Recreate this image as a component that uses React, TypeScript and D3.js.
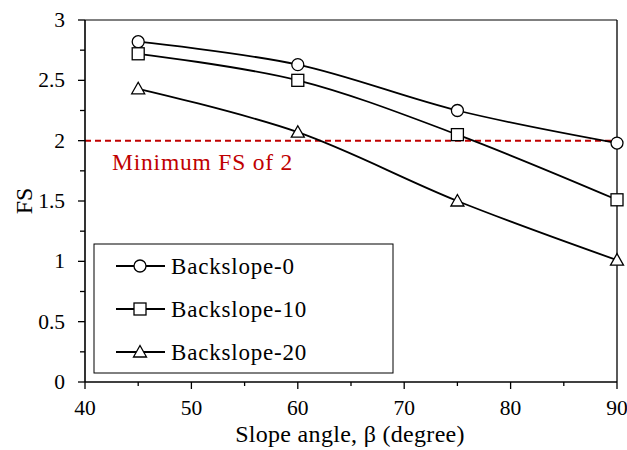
import React from "react";
import * as d3 from "d3";

const angles = [45, 60, 75, 90];
const backslope0 = [2.82, 2.63, 2.25, 1.98];
const backslope10 = [2.72, 2.5, 2.05, 1.51];
const backslope20 = [2.43, 2.07, 1.5, 1.01];
const seriesNames = ["Backslope-0", "Backslope-10", "Backslope-20"];
const markers = ["circle", "square", "triangle"];
const xTicks = [40, 50, 60, 70, 80, 90];
const yTicks = [0, 0.5, 1, 1.5, 2, 2.5, 3];
const minFS = 2;

const W = 627, H = 450;
const L = 85, R = 617, T = 20, B = 382;
const FONT = "'Liberation Serif', 'Times New Roman', serif";

function Marker({ type, x, y }: { type: string; x: number; y: number }) {
  const s = 6;
  if (type === "circle")
    return <circle cx={x} cy={y} r={s} fill="#fff" stroke="#000" strokeWidth={1.3} />;
  if (type === "square")
    return <rect x={x - s} y={y - s} width={2 * s} height={2 * s} fill="#fff" stroke="#000" strokeWidth={1.3} />;
  return (
    <polygon
      points={`${x},${y - 6.5} ${x + 6.5},${y + 5} ${x - 6.5},${y + 5}`}
      fill="#fff"
      stroke="#000"
      strokeWidth={1.3}
    />
  );
}

export default function App() {
  const x = d3.scaleLinear().domain([40, 90]).range([L, R]);
  const y = d3.scaleLinear().domain([0, 3]).range([B, T]);
  const data = [backslope0, backslope10, backslope20];
  const line = d3
    .line<number>()
    .x((_, i) => x(angles[i]))
    .y((d) => y(d))
    .curve(d3.curveCardinal.tension(0));
  const xMinor = d3.range(45, 90, 10);
  const yMinor = d3.range(0.25, 3, 0.5);
  const legX = 94, legY = 244, legW = 299, legH = 129;
  const rowY = [266, 309, 352];

  return (
    <svg width={W} height={H} style={{ position: "absolute", left: 0, top: 0 }} fontFamily={FONT}>
      <rect width={W} height={H} fill="#fff" />
      {/* frame */}
      <line x1={L} y1={T} x2={R} y2={T} stroke="#000" strokeWidth={1} />
      <line x1={R} y1={T} x2={R} y2={B} stroke="#000" strokeWidth={1.3} />
      {/* red min line */}
      <line x1={L} x2={R} y1={y(minFS)} y2={y(minFS)} stroke="#c00000" strokeWidth={2} strokeDasharray="6,4" />
      <text x={112} y={170} fill="#c00000" fontSize={23.5} letterSpacing={0.8}>Minimum FS of 2</text>
      {/* series */}
      {data.map((vals, si) => (
        <g key={si}>
          <path d={line(vals) || ""} fill="none" stroke="#000" strokeWidth={1.8} />
          {vals.map((v, i) => (
            <Marker key={i} type={markers[si]} x={x(angles[i])} y={y(v)} />
          ))}
        </g>
      ))}
      {/* axes */}
      <line x1={L} y1={T} x2={L} y2={B} stroke="#000" strokeWidth={1.6} />
      <line x1={L} y1={B} x2={R} y2={B} stroke="#000" strokeWidth={1.6} />
      {yTicks.map((t) => (
        <g key={t}>
          <line x1={L - 7} x2={L} y1={y(t)} y2={y(t)} stroke="#000" strokeWidth={1.3} />
          <text x={65} y={y(t) + 7} textAnchor="end" fontSize={21.5}>{t}</text>
        </g>
      ))}
      {yMinor.map((t) => (
        <line key={t} x1={L - 5} x2={L} y1={y(t)} y2={y(t)} stroke="#000" strokeWidth={1.3} />
      ))}
      {xTicks.map((t) => (
        <g key={t}>
          <line x1={x(t)} x2={x(t)} y1={B} y2={B + 7} stroke="#000" strokeWidth={1.3} />
          <text x={x(t)} y={415} textAnchor="middle" fontSize={21.5}>{t}</text>
        </g>
      ))}
      {xMinor.map((t) => (
        <line key={t} x1={x(t)} x2={x(t)} y1={B} y2={B + 4} stroke="#000" strokeWidth={1.3} />
      ))}
      <text x={350} y={442} textAnchor="middle" fontSize={24} letterSpacing={0.3}>Slope angle, β (degree)</text>
      <text transform={`translate(32,${201}) rotate(-90)`} textAnchor="middle" fontSize={24}>FS</text>
      {/* legend */}
      <rect x={legX} y={legY} width={legW} height={legH} fill="#fff" stroke="#000" strokeWidth={1} />
      {seriesNames.map((n, i) => (
        <g key={n}>
          <line x1={116} x2={165} y1={rowY[i]} y2={rowY[i]} stroke="#000" strokeWidth={1.8} />
          <Marker type={markers[i]} x={140} y={rowY[i]} />
          <text x={171} y={rowY[i] + 7.5} fontSize={23} letterSpacing={0.8}>{n}</text>
        </g>
      ))}
    </svg>
  );
}
